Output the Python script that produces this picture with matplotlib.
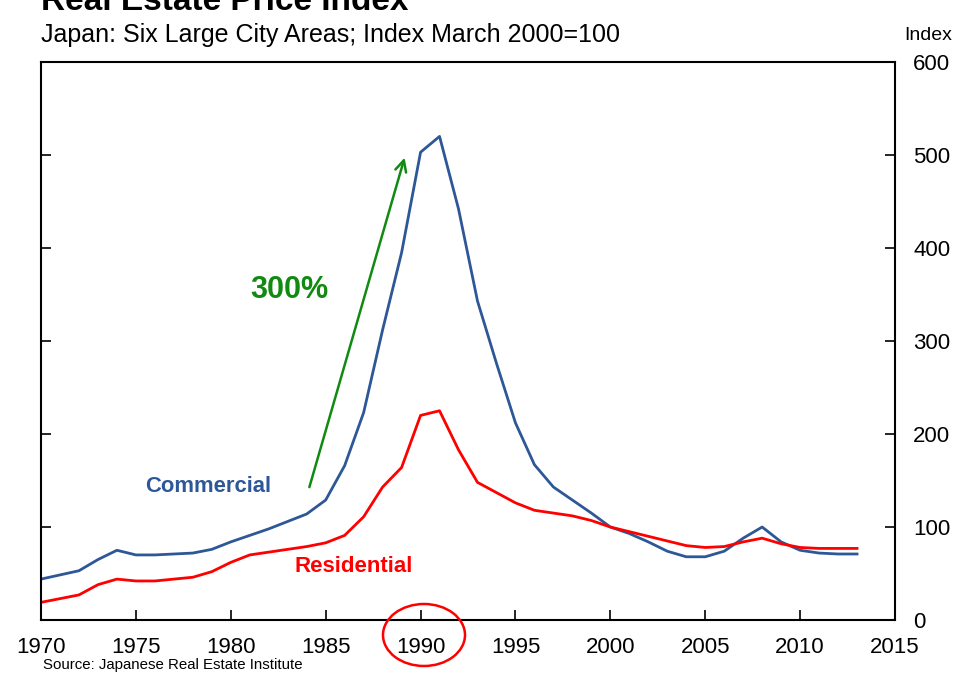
import matplotlib.pyplot as plt
from matplotlib.patches import Ellipse

plt.rcParams['font.family'] = ['Liberation Sans', 'DejaVu Sans']

years = [1970, 1972, 1973, 1974, 1975, 1976, 1977, 1978, 1979, 1980,
         1981, 1982, 1983, 1984, 1985, 1986, 1987, 1988, 1989, 1990,
         1991, 1992, 1993, 1994, 1995, 1996, 1997, 1998, 1999, 2000,
         2001, 2002, 2003, 2004, 2005, 2006, 2007, 2008, 2009, 2010,
         2011, 2012, 2013]
commercial = [44, 53, 65, 75, 70, 70, 71, 72, 76, 84,
              91, 98, 106, 114, 129, 166, 223, 312, 395, 503,
              520, 442, 343, 276, 212, 167, 143, 129, 115, 100,
              93, 84, 74, 68, 68, 74, 88, 100, 84, 75,
              72, 71, 71]
residential = [19, 27, 38, 44, 42, 42, 44, 46, 52, 62,
               70, 73, 76, 79, 83, 91, 111, 143, 164, 220,
               225, 183, 148, 137, 126, 118, 115, 112, 107, 100,
               95, 90, 85, 80, 78, 79, 84, 88, 82, 78,
               77, 77, 77]

xticks = list(range(1970, 2016, 5))
yticks = list(range(0, 601, 100))

blue = '#2d5796'
red = '#ff0000'
green = '#118a11'

fig = plt.figure(figsize=(9.74, 6.76), dpi=100)
ax = fig.add_axes([0.0421, 0.0828, 0.8768, 0.8255])

ax.plot(years, commercial, color=blue, lw=2.0)
ax.plot(years, residential, color=red, lw=2.0)

ax.set_xlim(1970, 2015)
ax.set_ylim(0, 600)
ax.set_xticks(xticks)
ax.set_yticks(yticks)
ax.yaxis.tick_right()
ax.tick_params(axis='x', direction='in', length=7, width=1.2, pad=12, labelsize=16)
ax.tick_params(axis='y', direction='in', length=7, width=1.2, pad=13, labelsize=16,
               left=True, right=True, labelleft=False, labelright=True)
for s in ax.spines.values():
    s.set_linewidth(1.5)

# annotations
ax.annotate('', xy=(1989.2, 500), xytext=(1984.1, 140),
            arrowprops=dict(arrowstyle='->', color=green, lw=1.8,
                            mutation_scale=20))
ax.text(1983.1, 355, '300%', color=green, fontsize=22, fontweight='bold',
        ha='center', va='center')
ax.text(1978.8, 144, 'Commercial', color=blue, fontsize=15.8, fontweight='bold',
        ha='center', va='center')
ax.text(1986.5, 58, 'Residential', color=red, fontsize=16, fontweight='bold',
        ha='center', va='center')

# header texts
fig.text(41 / 974, 1 - 2 / 676, 'Real Estate Price Index', fontsize=24,
         fontweight='bold', ha='left', va='center')
fig.text(41 / 974, 1 - 35 / 676, 'Japan: Six Large City Areas; Index March 2000=100',
         fontsize=18, ha='left', va='center')
fig.text(928 / 974, 1 - 36 / 676, 'Index', fontsize=14, ha='center', va='center')
fig.text(43 / 974, 1 - 665 / 676, 'Source: Japanese Real Estate Institute',
         fontsize=10.8, ha='left', va='center')

# circle round the 1990 label
fig.patches.append(Ellipse((424 / 974, 1 - 635 / 676), 82 / 974, 62 / 676,
                           transform=fig.transFigure, fill=False,
                           edgecolor=red, lw=1.8))

fig.savefig('out.png', dpi=100)
